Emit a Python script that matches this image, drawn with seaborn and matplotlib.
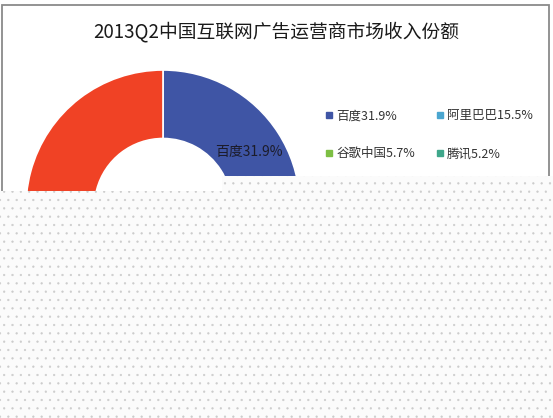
import matplotlib
matplotlib.use("Agg")
import matplotlib.pyplot as plt
import seaborn as sns
from matplotlib.patches import Rectangle, Polygon
from matplotlib.lines import Line2D

# data (其他 = remainder of the visible shares)
companies = ["百度", "阿里巴巴", "谷歌中国", "腾讯", "其他"]
shares = [31.9, 15.5, 5.7, 5.2, 41.7]
colors = ["#3F55A5", "#4BA6D0", "#7DBF43", "#3FA78B", "#F04225"]
title = "2013Q2中国互联网广告运营商市场收入份额"

sns.set_theme(style="white")
plt.rcParams["font.family"] = ["Noto Sans CJK SC", "DejaVu Sans"]
plt.rcParams["hatch.linewidth"] = 0.4

W, H = 553, 418
fig = plt.figure(figsize=(W / 100, H / 100), dpi=100)
fig.patch.set_facecolor("white")

# frame around the chart
fig.patches.append(Rectangle((2 / W, -0.1), 547 / W, 1.1 - 5 / H, transform=fig.transFigure,
                             fill=False, edgecolor="#8a8a8a", linewidth=1.3, zorder=1))

# donut, centre at (163, 207) px, outer radius 137 px
cx, cy, R = 163, 207, 137
ax = fig.add_axes([(cx - R) / W, (H - cy - R) / H, 2 * R / W, 2 * R / H])
labels = [f"{c}{s}%" if (c != "其他" and s >= 10) else "" for c, s in zip(companies, shares)]
wedges, texts = ax.pie(shares, colors=colors, startangle=90, counterclock=False,
                       labels=labels, labeldistance=0.74, radius=1,
                       wedgeprops=dict(width=0.5, edgecolor="white", linewidth=1.2),
                       textprops=dict(fontsize=10, color="#1c1c2a"))
for t in texts:
    t.set_ha("center")
    t.set_va("center")
ax.set_xlim(-1, 1)
ax.set_ylim(-1, 1)
ax.set_aspect("equal")
ax.axis("off")

fig.text(0.5, 1 - 32 / H, title, ha="center", va="center", fontsize=13.5, color="#1a1a1a")

# legend, two columns filled row by row
order = [0, 2, 1, 3]
handles = [Line2D([], [], marker="s", linestyle="none", markersize=5, color=colors[i]) for i in order]
leg_labels = [f"{companies[i]}{shares[i]}%" for i in order]
fig.legend(handles, leg_labels, ncol=2, loc="upper left",
           bbox_to_anchor=(319 / W, 1 - 103 / H), frameon=False, fontsize=9,
           handlelength=0.6, handletextpad=0.3, labelspacing=2.0, columnspacing=1.65,
           borderpad=0, labelcolor="#333333")

# dotted overlay covering the lower part of the picture
ov = Polygon([(0, 1 - 191 / H), (222 / W, 1 - 191 / H), (222 / W, 1 - 176 / H),
              (1, 1 - 176 / H), (1, 0), (0, 0)], closed=True, transform=fig.transFigure,
             facecolor="#fbfbfb", edgecolor="#cccccc", linewidth=0, hatch="..", zorder=10)
fig.patches.append(ov)

fig.savefig("out.png", dpi=100)
